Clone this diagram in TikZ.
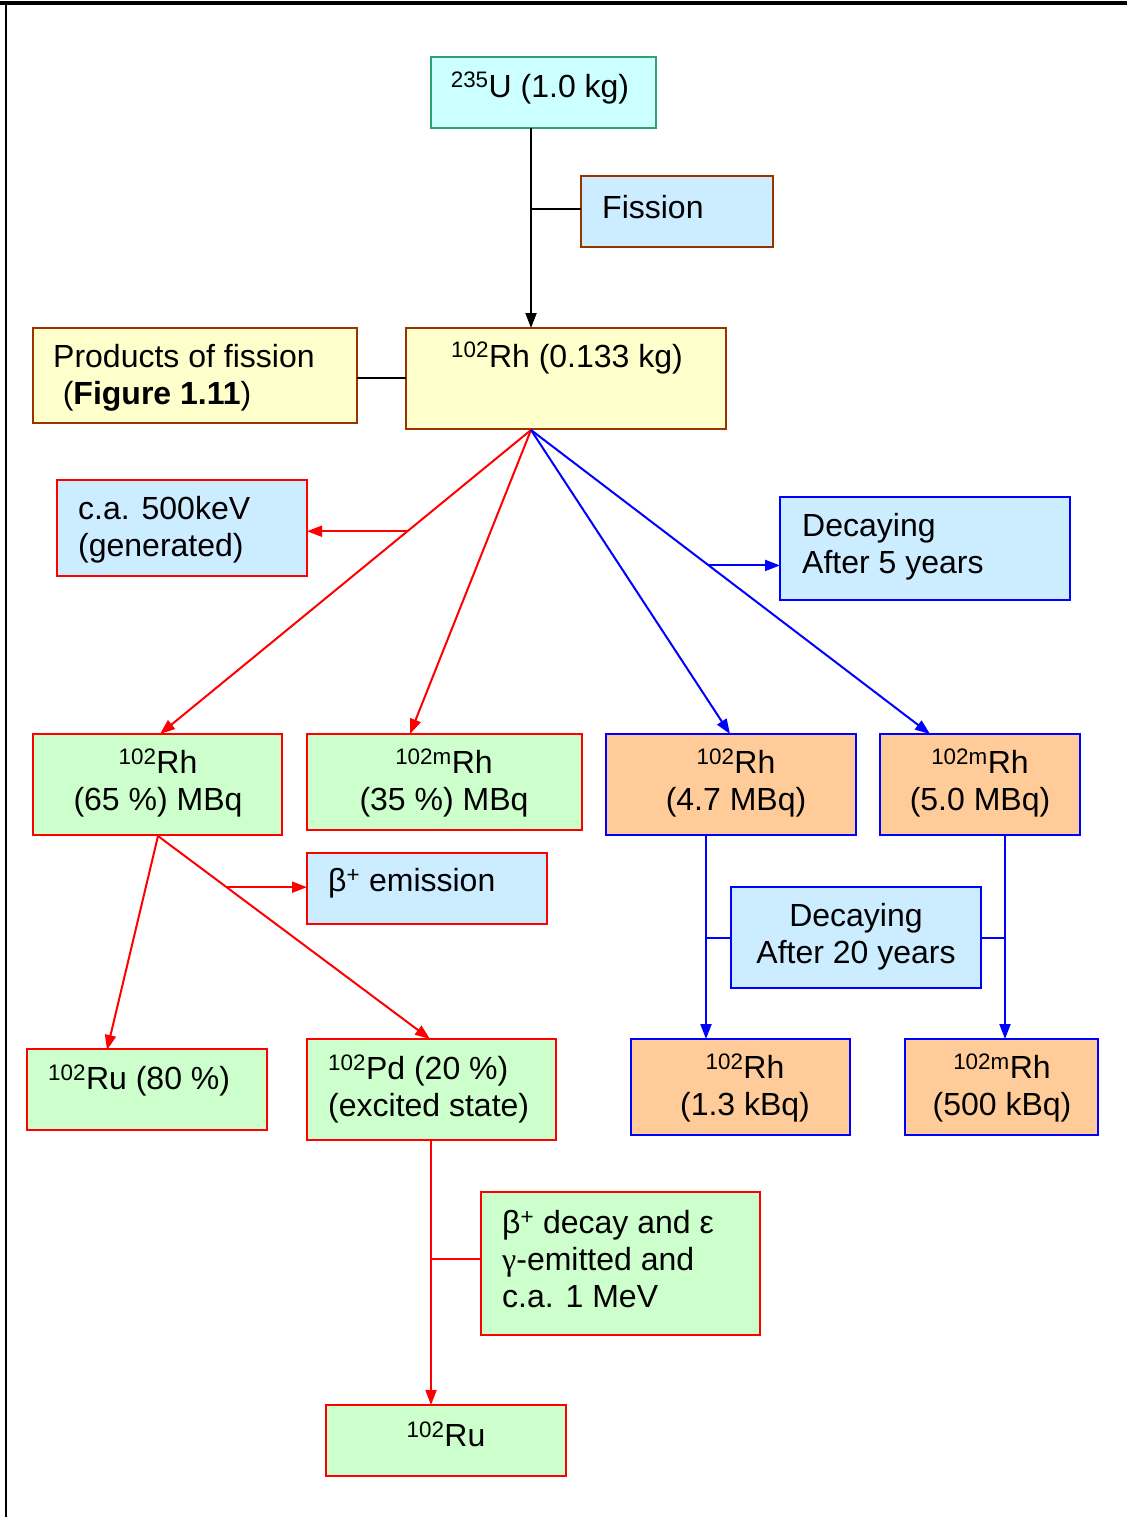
\documentclass[tikz,border=0pt]{standalone}
\usepackage{fontspec}
\setmainfont{Liberation Sans}
\newfontfamily\serifgreek{Liberation Serif}
\usetikzlibrary{arrows.meta,calc}
\definecolor{cyanfill}{HTML}{CCFFFF}
\definecolor{cyanedge}{HTML}{33A070}
\definecolor{bluefill}{HTML}{CCECFF}
\definecolor{yelfill}{HTML}{FFFFCC}
\definecolor{brownedge}{HTML}{993300}
\definecolor{greenfill}{HTML}{CCFFCC}
\definecolor{orangefill}{HTML}{FFCC99}
\definecolor{pured}{HTML}{FF0000}
\definecolor{pureblue}{HTML}{0000FF}
\begin{document}
\begin{tikzpicture}[x=1pt,y=-1pt,
  box/.style={draw, line width=2pt, inner sep=0pt, outer sep=0pt},
  txt/.style={inner sep=0pt, font=\fontsize{32}{37}\selectfont, align=center},
  ltxt/.style={inner sep=0pt, font=\fontsize{32}{37}\selectfont, align=left, anchor=west},
  conn/.style={line width=2pt},
  arr/.style={line width=2pt, -{Triangle[length=15pt,width=11pt]}},
  ]
\useasboundingbox (0,0) rectangle (1127,1517);
\fill[white] (0,0) rectangle (1127,1517);
% frame
\draw[line width=3.5pt] (0,3) -- (1127,3);
\draw[line width=2.5pt] (6,3) -- (6,1517);

% boxes
\node[box,draw=cyanedge,fill=cyanfill,minimum width=225,minimum height=71,anchor=north west] (u) at (431,57) {};
\node[box,draw=brownedge,fill=bluefill,minimum width=192,minimum height=71,anchor=north west] (fis) at (581,176) {};
\node[box,draw=brownedge,fill=yelfill,minimum width=324,minimum height=95,anchor=north west] (prod) at (33,328) {};
\node[box,draw=brownedge,fill=yelfill,minimum width=320,minimum height=101,anchor=north west] (rh) at (406,328) {};
\node[box,draw=pured,fill=bluefill,minimum width=250,minimum height=96,anchor=north west] (kev) at (57,480) {};
\node[box,draw=pureblue,fill=bluefill,minimum width=290,minimum height=103,anchor=north west] (dec5) at (780,497) {};
\node[box,draw=pured,fill=greenfill,minimum width=249,minimum height=101,anchor=north west] (a) at (33,734) {};
\node[box,draw=pured,fill=greenfill,minimum width=275,minimum height=96,anchor=north west] (b) at (307,734) {};
\node[box,draw=pureblue,fill=orangefill,minimum width=250,minimum height=101,anchor=north west] (c) at (606,734) {};
\node[box,draw=pureblue,fill=orangefill,minimum width=200,minimum height=101,anchor=north west] (d) at (880,734) {};
\node[box,draw=pured,fill=bluefill,minimum width=240,minimum height=71,anchor=north west] (beta) at (307,853) {};
\node[box,draw=pureblue,fill=bluefill,minimum width=250,minimum height=101,anchor=north west] (dec20) at (731,887) {};
\node[box,draw=pured,fill=greenfill,minimum width=240,minimum height=81,anchor=north west] (ru) at (27,1049) {};
\node[box,draw=pured,fill=greenfill,minimum width=249,minimum height=101,anchor=north west] (pd) at (307,1039) {};
\node[box,draw=pureblue,fill=orangefill,minimum width=219,minimum height=96,anchor=north west] (e) at (631,1039) {};
\node[box,draw=pureblue,fill=orangefill,minimum width=193,minimum height=96,anchor=north west] (f) at (905,1039) {};
\node[box,draw=pured,fill=greenfill,minimum width=279,minimum height=143,anchor=north west] (bdec) at (481,1192) {};
\node[box,draw=pured,fill=greenfill,minimum width=240,minimum height=71,anchor=north west] (ru2) at (326,1405) {};

% texts
\node[txt] (ut) at (540,88) {\textsuperscript{235}U (1.0 kg)};
\node[ltxt] (fist) at (602,207) {Fission};
\node[ltxt] (prodt) at (53,378) {Products of fission\\\hspace{0.3em}(\textbf{Figure 1.11})};
\node[txt] (rht) at (567,358) {\textsuperscript{102}Rh (0.133 kg)};
\node[ltxt] (kevt) at (78,530) {c.a. 500keV\\(generated)};
\node[ltxt] (dec5t) at (802,547) {Decaying\\After 5 years};
\node[txt] (at) at (158,783) {\textsuperscript{102}Rh\\(65 \%) MBq};
\node[txt] (bt) at (444,783) {\textsuperscript{102m}Rh\\(35 \%) MBq};
\node[txt] (ct) at (736,783) {\textsuperscript{102}Rh\\(4.7 MBq)};
\node[txt] (dt) at (980,783) {\textsuperscript{102m}Rh\\(5.0 MBq)};
\node[ltxt] (betat) at (328,883) {β\textsuperscript{+} emission};
\node[txt] (dec20t) at (856,937) {Decaying\\After 20 years};
\node[ltxt] (rut) at (48,1080) {\textsuperscript{102}Ru (80 \%)};
\node[ltxt] (pdt) at (328,1089) {\textsuperscript{102}Pd (20 \%)\\(excited state)};
\node[txt] (et) at (745,1088) {\textsuperscript{102}Rh\\(1.3 kBq)};
\node[txt] (ft) at (1002,1088) {\textsuperscript{102m}Rh\\(500 kBq)};
\node[ltxt] (bdect) at (502,1259) {β\textsuperscript{+} decay and ε\\{\serifgreek γ}-emitted and\\c.a. 1 MeV};
\node[txt] (ru2t) at (446,1434) {\textsuperscript{102}Ru};

% connectors
\coordinate (us) at (531,128);
\coordinate (rhtop) at (531,328);
\draw[arr] (us) -- (rhtop);
\draw[conn] ($(us)!0.405!(rhtop)$) -- (fis.west |- {$(us)!0.405!(rhtop)$});
\draw[conn] (prod.east |- 0,378) -- (rh.west |- 0,378);

\coordinate (rhb) at (531,430);
\coordinate (bt0) at (410,734);
\coordinate (dt0) at (930,734);
\coordinate (at0) at (160,734);
\coordinate (ct0) at (730,734);
\draw[arr,pured] (rhb) -- (at0);
\draw[arr,pured] (rhb) -- (bt0);
\draw[arr,pureblue] (rhb) -- (ct0);
\draw[arr,pureblue] (rhb) -- (dt0);
\coordinate (kevs) at ($(rhb)!0.333!(at0)$);
\draw[arr,pured] (kevs) -- (kev.east |- kevs);
\coordinate (dec5s) at ($(rhb)!0.4455!(dt0)$);
\draw[arr,pureblue] (dec5s) -- (dec5.west |- dec5s);

\coordinate (ab) at (158,836);
\coordinate (rut0) at (107,1050);
\coordinate (pdt0) at (430,1039);
\draw[arr,pured] (ab) -- (rut0);
\draw[arr,pured] (ab) -- (pdt0);
\coordinate (betas) at ($(ab)!0.252!(pdt0)$);
\draw[arr,pured] (betas) -- (beta.west |- betas);

\coordinate (cb) at (706,836);
\coordinate (db) at (1005,836);
\draw[arr,pureblue] (cb) -- (cb |- e.north);
\draw[arr,pureblue] (db) -- (db |- f.north);
\draw[conn,pureblue] (cb |- 0,938) -- (dec20.west |- 0,938);
\draw[conn,pureblue] (dec20.east |- 0,938) -- (db |- 0,938);

\coordinate (pdb) at (431,1140);
\draw[arr,pured] (pdb) -- (pdb |- ru2.north);
\draw[conn,pured] (pdb |- 0,1259) -- (bdec.west |- 0,1259);
\end{tikzpicture}
\end{document}
